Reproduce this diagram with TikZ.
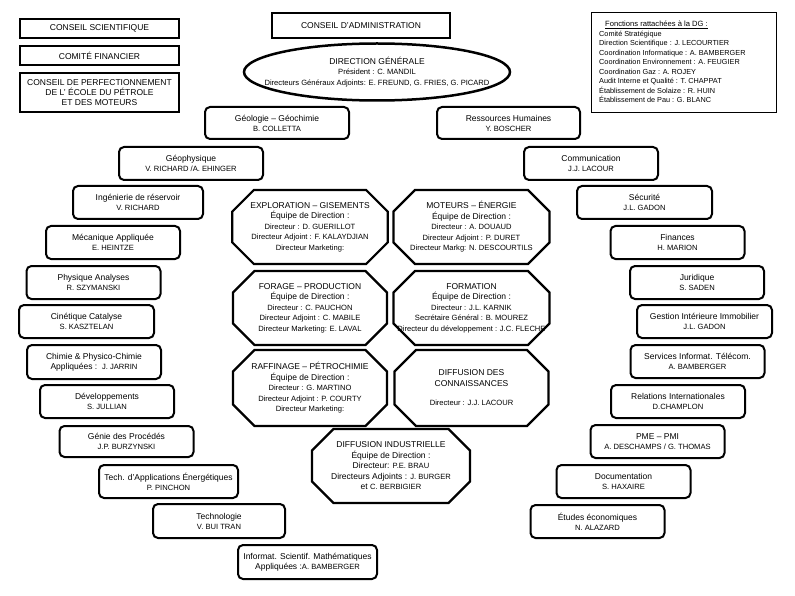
\documentclass[tikz,border=0pt]{standalone}
\usepackage{fontspec}
\setmainfont{Liberation Sans}
\usetikzlibrary{shapes.geometric,shapes.misc}
\newcommand{\nm}[1]{{\fontsize{7.6}{10}\selectfont #1}}
\begin{document}
\begin{tikzpicture}[
    x=1pt, y=-1pt,
    unit/.style={
        draw, line width=2pt, rounded corners=5pt,
        minimum height=33pt, minimum width=134pt,
        font=\fontsize{8.5}{10}\selectfont, align=center, inner sep=1pt,
    },
    dept/.style={
        draw, line width=2.2pt, chamfered rectangle, chamfered rectangle xsep=18pt,
        minimum width=154pt, minimum height=74pt,
        font=\fontsize{8.5}{10.5}\selectfont, align=center, inner sep=0pt,
    },
    council/.style={
        draw, line width=#1, minimum width=159pt, minimum height=19pt,
        font=\fontsize{8.5}{10}\selectfont, align=center, inner sep=1pt,
    },
    council/.default=2pt,
]
\useasboundingbox (0,0) rectangle (795,596);

% ════════════════════════════════════════
% Councils and general direction
% ════════════════════════════════════════
\node[council] (sci) at (99.5,28.5) {CONSEIL SCIENTIFIQUE};
\node[council] (cfin) at (99.5,55.5) {COMITÉ FINANCIER};
\node[council, minimum height=39pt] (perf) at (99.5,92.5)
    {CONSEIL DE PERFECTIONNEMENT\\DE L' ÉCOLE DU PÉTROLE\\ET DES MOTEURS};
\node[council=1.2pt, minimum width=178pt, minimum height=25pt] (admin) at (361,25.5)
    {CONSEIL D'ADMINISTRATION};

\node[draw, ellipse, line width=2.5pt, minimum width=266pt, minimum height=57pt] (dg) at (377,72) {};
\node[font=\fontsize{8.5}{10.5}\selectfont, align=center, inner sep=0pt] (dgtext) at (dg.center)
    {DIRECTION GÉNÉRALE\\\nm{Président : C. MANDIL}\\\nm{Directeurs Généraux Adjoints: E. FREUND, G. FRIES, G. PICARD}};

% Functions attached to the DG
\node[draw, line width=1pt, minimum width=185pt, minimum height=100pt] (fct) at (683.5,63) {};
\node[anchor=north west, align=left, inner sep=0pt, font=\fontsize{7.3}{9.5}\selectfont] (fcttext) at (599,21)
    {\hspace*{6pt}{\fontsize{7.6}{9.5}\selectfont\underline{Fonctions rattachées à la DG :}}\\
     Comité Stratégique\\
     Direction Scientifique : J. LECOURTIER\\
     Coordination Informatique : A. BAMBERGER\\
     Coordination Environnement : A. FEUGIER\\
     Coordination Gaz : A. ROJEY\\
     Audit Interne et Qualité : T. CHAPPAT\\
     Établissement de Solaize : R. HUIN\\
     Établissement de Pau : G. BLANC};

% ════════════════════════════════════════
% Left arc of units
% ════════════════════════════════════════
\node[unit, minimum width=144pt, minimum height=32pt] (geol) at (277,123) {Géologie – Géochimie\\\nm{B. COLLETTA}};
\node[unit, minimum width=144pt] (geoph) at (191,163.5) {Géophysique\\\nm{V. RICHARD /A. EHINGER}};
\node[unit, minimum width=130pt] (reserv) at (138,202.5) {Ingénierie de réservoir\\\nm{V. RICHARD}};
\node[unit] (meca) at (113,242.5) {Mécanique Appliquée\\\nm{E. HEINTZE}};
\node[unit] (phys) at (93.5,282.5) {Physique Analyses\\\nm{R. SZYMANSKI}};
\node[unit, minimum width=135pt] (cinet) at (86.5,321.5) {Cinétique Catalyse\\\nm{S. KASZTELAN}};
\node[unit, minimum height=34pt] (chimie) at (94,362) {Chimie \& Physico-Chimie\\Appliquées :\ \ \nm{J. JARRIN}};
\node[unit] (devel) at (107,401.5) {Développements\\\nm{S. JULLIAN}};
\node[unit, minimum height=31pt] (genie) at (126.5,441.5) {Génie des Procédés\\\nm{J.P. BURZYNSKI}};
\node[unit, minimum width=139pt] (techappl) at (168.5,481.5) {Tech. d'Applications Énergétiques\\\nm{P. PINCHON}};
\node[unit, minimum width=132pt, minimum height=34pt] (techno) at (219,521) {Technologie\\\nm{V. BUI TRAN}};
\node[unit, minimum width=139pt, minimum height=34pt] (infosci) at (307.5,562)
    {Informat. Scientif. Mathématiques\\Appliquées :\nm{A. BAMBERGER}};

% ════════════════════════════════════════
% Right arc of units
% ════════════════════════════════════════
\node[unit, minimum width=143pt, minimum height=32pt] (rh) at (508.5,123) {Ressources Humaines\\\nm{Y. BOSCHER}};
\node[unit] (comm) at (591,163.5) {Communication\\\nm{J.J. LACOUR}};
\node[unit, minimum width=135pt] (secu) at (644.5,202.5) {Sécurité\\\nm{J.L. GADON}};
\node[unit] (fin) at (677.5,242.5) {Finances\\\nm{H. MARION}};
\node[unit] (jur) at (697,282.5) {Juridique\\\nm{S. SADEN}};
\node[unit, minimum width=135pt] (gestion) at (704.5,321.5) {Gestion Intérieure Immobilier\\\nm{J.L. GADON}};
\node[unit] (servinf) at (697.5,361.5) {Services Informat. Télécom.\\\nm{A. BAMBERGER}};
\node[unit] (relint) at (678,401.5) {Relations Internationales\\\nm{D.CHAMPLON}};
\node[unit] (pme) at (657.5,441.5) {PME – PMI\\\nm{A. DESCHAMPS / G. THOMAS}};
\node[unit] (doc) at (623.5,481.5) {Documentation\\\nm{S. HAXAIRE}};
\node[unit] (etudes) at (597.5,521.5) {Études économiques\\\nm{N. ALAZARD}};

% ════════════════════════════════════════
% Central divisions (octagons)
% ════════════════════════════════════════
\node[dept] (explo) at (310,227)
    {EXPLORATION – GISEMENTS\\Équipe de Direction :\\\nm{Directeur : D. GUERILLOT}\\
     \nm{Directeur Adjoint : F. KALAYDJIAN}\\\nm{Directeur Marketing:}};
\node[dept] (moteurs) at (471.5,227)
    {MOTEURS – ÉNERGIE\\Équipe de Direction :\\\nm{Directeur : A. DOUAUD}\\
     \nm{Directeur Adjoint : P. DURET}\\\makebox[120pt]{\nm{Directeur Markg: N. DESCOURTILS}}};
\node[dept] (forage) at (310,308)
    {FORAGE – PRODUCTION\\Équipe de Direction :\\\nm{Directeur : C. PAUCHON}\\
     \nm{Directeur Adjoint : C. MABILE}\\\nm{Directeur Marketing: E. LAVAL}};
\node[dept] (formation) at (471.5,308)
    {FORMATION\\Équipe de Direction :\\\nm{Directeur : J.L. KARNIK}\\
     \nm{Secrétaire Général : B. MOUREZ}\\\makebox[120pt]{\nm{Directeur du développement : J.C. FLECHE}}};
\node[dept, minimum height=76pt] (raff) at (310,388)
    {RAFFINAGE – PÉTROCHIMIE\\Équipe de Direction :\\\nm{Directeur : G. MARTINO}\\
     \nm{Directeur Adjoint : P. COURTY}\\\nm{Directeur Marketing:}};
\node[dept, minimum height=76pt] (diffc) at (471.5,388)
    {DIFFUSION DES\\CONNAISSANCES\\[9pt]\nm{Directeur : J.J. LACOUR}};
\node[dept, minimum width=158pt] (diffi) at (391,466)
    {DIFFUSION INDUSTRIELLE\\Équipe de Direction :\\Directeur: \nm{P.E. BRAU}\\
     Directeurs Adjoints : \nm{J. BURGER}\\et \nm{C. BERBIGIER}};

\end{tikzpicture}
\end{document}
